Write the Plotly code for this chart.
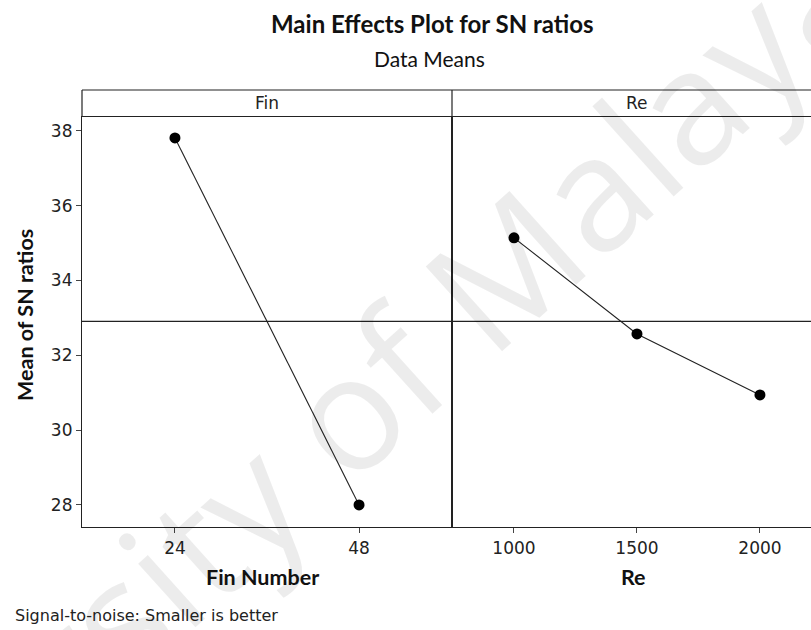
import numpy as np
import plotly.graph_objects as go

# Level means of the signal-to-noise ratio for each factor
fin_levels = ["24", "48"]
fin_sn = [37.81, 28.00]

re_levels = ["1000", "1500", "2000"]
re_sn = [35.14, 32.57, 30.94]

y_ticks = [28, 30, 32, 34, 36, 38]

# Grand mean of the SN ratios (reference line in each panel)
grand_mean = float(np.mean(fin_sn))

W, H = 811, 630
ML, MR, MT, MB = 82, 0, 117, 103
PW, PH = W - ML - MR, H - MT - MB


def px(x):
    return (x - ML) / PW


def py(y):
    return (H - MB - y) / PH


split = px(452)
strip_top = py(90)

tick_font = dict(family="DejaVu Sans", size=17, color="#222")
label_font = dict(family="Lato", size=21.5, color="#111")

fig = go.Figure()

# Reference lines at the grand mean
for xr in ("x domain", "x2 domain"):
    fig.add_shape(type="line", xref=xr, yref="y" if xr == "x domain" else "y2",
                  x0=0, x1=1, y0=grand_mean, y1=grand_mean,
                  line=dict(color="#222", width=1.2), layer="below")

fig.add_trace(go.Scatter(
    x=fin_levels, y=fin_sn, xaxis="x", yaxis="y", mode="lines+markers",
    line=dict(color="#222", width=1.1),
    marker=dict(color="#000", size=11), showlegend=False))

fig.add_trace(go.Scatter(
    x=re_levels, y=re_sn, xaxis="x2", yaxis="y2", mode="lines+markers",
    line=dict(color="#222", width=1.1),
    marker=dict(color="#000", size=11), showlegend=False))

axis_common = dict(type="category", showgrid=False, zeroline=False,
                   showline=True, linecolor="#222", linewidth=1.2,
                   ticks="outside", ticklen=5, tickcolor="#444",
                   tickfont=tick_font, fixedrange=True)

fig.update_layout(
    width=W, height=H,
    margin=dict(l=ML, r=MR, t=MT, b=MB),
    paper_bgcolor="white", plot_bgcolor="white",
    xaxis=dict(axis_common, domain=[0, split], range=[-0.505, 1.505],
               mirror=True, anchor="y"),
    xaxis2=dict(axis_common, domain=[split, 1], range=[-0.504, 2.415],
                mirror=True, anchor="y2"),
    yaxis=dict(range=[27.41, 38.37], tickvals=y_ticks, showgrid=False,
               zeroline=False, showline=True, linecolor="#222", linewidth=1.2,
               mirror=True, ticks="outside", ticklen=5, tickcolor="#444",
               tickfont=tick_font, anchor="x", fixedrange=True),
    yaxis2=dict(range=[27.41, 38.37], showgrid=False, zeroline=False,
                showline=True, linecolor="#222", linewidth=1.2,
                showticklabels=False, ticks="", anchor="x2", fixedrange=True),
)

# Panel strips above each plot
strip_line = dict(color="#222", width=1.2)
fig.add_shape(type="line", xref="paper", yref="paper", x0=0, x1=1,
              y0=strip_top, y1=strip_top, line=strip_line)
fig.add_shape(type="line", xref="paper", yref="paper", x0=0, x1=0,
              y0=1, y1=strip_top, line=strip_line)
fig.add_shape(type="line", xref="paper", yref="paper", x0=split, x1=split,
              y0=1, y1=strip_top, line=strip_line)

annotations = [
    # watermark
    dict(text="University of Malaya", x=px(283), y=py(465), textangle=-42,
         font=dict(family="Open Sans", size=160, color="rgba(0,0,0,0.075)"),
         showarrow=False),
    dict(text="<b>Main Effects Plot for SN ratios</b>", x=px(432), y=py(23),
         font=dict(family="Lato", size=24, color="#111"), showarrow=False),
    dict(text="Data Means", x=px(429), y=py(58),
         font=dict(family="Lato", size=21, color="#111"), showarrow=False),
    dict(text="Fin", x=px(267), y=py(103), font=tick_font, showarrow=False),
    dict(text="Re", x=px(637), y=py(103), font=tick_font, showarrow=False),
    dict(text="<b>Fin Number</b>", x=px(262), y=py(577), font=label_font,
         showarrow=False),
    dict(text="<b>Re</b>", x=px(633), y=py(577), font=label_font,
         showarrow=False),
    dict(text="<b>Mean of SN ratios</b>", x=px(25), y=py(315), textangle=-90,
         font=dict(family="Lato", size=21.5, color="#111"), showarrow=False),
    dict(text="Signal-to-noise: Smaller is better", x=px(13), y=py(615),
         xanchor="left", font=dict(family="DejaVu Sans", size=16, color="#222"),
         showarrow=False),
]
for a in annotations:
    a.setdefault("xref", "paper")
    a.setdefault("yref", "paper")
    a.setdefault("xanchor", "center")
    a.setdefault("yanchor", "middle")
    fig.add_annotation(**a)

fig.write_html("out.html")
